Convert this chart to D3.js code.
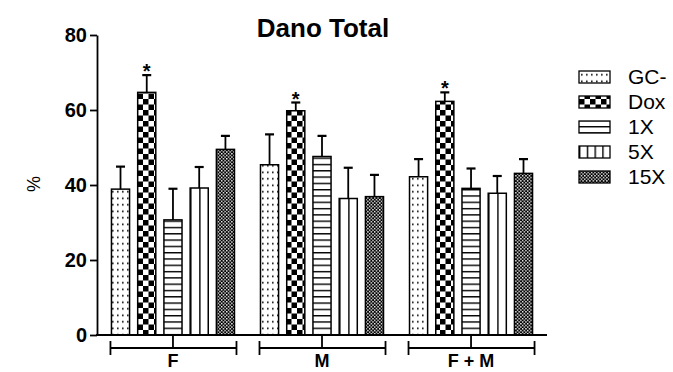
<!DOCTYPE html>
<html>
<head>
<meta charset="utf-8">
<script src="https://cdn.jsdelivr.net/npm/d3@7"></script>
<style>
  body { margin: 0; background: #fff; }
  text { font-family: Arial, "Liberation Sans", sans-serif; }
</style>
</head>
<body>
<svg id="chart" width="673" height="372"></svg>
<script>
// data
const groups = ["F", "M", "F + M"];
const series = ["GC-", "Dox", "1X", "5X", "15X"];
const meanF  = [38.9, 64.7, 30.7, 39.2, 49.5];
const meanM  = [45.4, 59.8, 47.6, 36.4, 36.9];
const meanFM = [42.2, 62.3, 39.1, 37.8, 43.1];
const errF   = [6.0, 4.6, 8.3, 5.6, 3.6];
const errM   = [8.1, 2.2, 5.5, 8.2, 5.8];
const errFM  = [4.7, 2.4, 5.3, 4.6, 3.8];
const starred = ["Dox"];
const yTicks = [0, 20, 40, 60, 80];

const means = [meanF, meanM, meanFM];
const errs = [errF, errM, errFM];
const rows = [];
groups.forEach((g, gi) => series.forEach((s, si) => {
  rows.push({ group: g, series: s, value: means[gi][si], err: errs[gi][si] });
}));

const svg = d3.select("#chart");

// patterns
const defs = svg.append("defs");
const dots = defs.append("pattern").attr("id", "p-dots")
  .attr("patternUnits", "userSpaceOnUse").attr("width", 5).attr("height", 6.5);
dots.append("rect").attr("width", 5).attr("height", 6.5).attr("fill", "#fff");
dots.append("rect").attr("x", 2).attr("y", 2.5).attr("width", 1.6).attr("height", 1.6).attr("fill", "#000");

const check = defs.append("pattern").attr("id", "p-check")
  .attr("patternUnits", "userSpaceOnUse").attr("width", 11).attr("height", 11);
check.append("rect").attr("width", 11).attr("height", 11).attr("fill", "#fff");
check.append("rect").attr("width", 5.5).attr("height", 5.5).attr("fill", "#000");
check.append("rect").attr("x", 5.5).attr("y", 5.5).attr("width", 5.5).attr("height", 5.5).attr("fill", "#000");

const hlines = defs.append("pattern").attr("id", "p-hlines")
  .attr("patternUnits", "userSpaceOnUse").attr("width", 10).attr("height", 6.3);
hlines.append("rect").attr("width", 10).attr("height", 6.3).attr("fill", "#fff");
hlines.append("rect").attr("y", 0).attr("width", 10).attr("height", 1.4).attr("fill", "#000");

function vlinePattern(id, frac) {
  const p = defs.append("pattern").attr("id", id)
    .attr("patternUnits", "objectBoundingBox").attr("width", frac).attr("height", 1);
  p.append("rect").attr("width", 100).attr("height", 400).attr("fill", "#fff");
  p.append("rect").attr("width", 1.4).attr("height", 400).attr("fill", "#000");
}
vlinePattern("p-vlines", 0.5);
vlinePattern("p-vlines-leg", 0.25);

const fine = defs.append("pattern").attr("id", "p-fine")
  .attr("patternUnits", "userSpaceOnUse").attr("width", 3.4).attr("height", 3.4);
fine.append("rect").attr("width", 3.4).attr("height", 3.4).attr("fill", "#000");
fine.append("rect").attr("width", 1.4).attr("height", 1.4).attr("fill", "#fff");
fine.append("rect").attr("x", 1.7).attr("y", 1.7).attr("width", 1.4).attr("height", 1.4).attr("fill", "#fff");

const fills = { "GC-": "url(#p-dots)", "Dox": "url(#p-check)", "1X": "url(#p-hlines)", "5X": "url(#p-vlines)", "15X": "url(#p-fine)" };
const legFills = Object.assign({}, fills, { "5X": "url(#p-vlines-leg)" });

// scales
const y = d3.scaleLinear().domain([0, 80]).range([335, 35]);
const x0 = d3.scaleBand().domain(groups).range([97, 547])
  .paddingInner(0.1745).paddingOuter(0.097);
const x1 = d3.scaleBand().domain(series).range([0, x0.bandwidth()])
  .paddingInner(0.31).paddingOuter(0);

// bars
svg.append("g").selectAll("rect").data(rows).join("rect")
  .attr("x", d => x0(d.group) + x1(d.series))
  .attr("y", d => y(d.value))
  .attr("width", x1.bandwidth())
  .attr("height", d => y(0) - y(d.value))
  .attr("fill", d => fills[d.series])
  .attr("stroke", "#000").attr("stroke-width", 1.5);

// error bars (upper only)
const eb = svg.append("g").attr("stroke", "#000").attr("stroke-width", 1.8);
eb.selectAll("line.v").data(rows).join("line").attr("class", "v")
  .attr("x1", d => x0(d.group) + x1(d.series) + x1.bandwidth() / 2)
  .attr("x2", d => x0(d.group) + x1(d.series) + x1.bandwidth() / 2)
  .attr("y1", d => y(d.value))
  .attr("y2", d => y(d.value + d.err));
eb.selectAll("line.c").data(rows).join("line").attr("class", "c")
  .attr("stroke-width", 2.2)
  .attr("x1", d => x0(d.group) + x1(d.series) + x1.bandwidth() / 2 - 4.5)
  .attr("x2", d => x0(d.group) + x1(d.series) + x1.bandwidth() / 2 + 4.5)
  .attr("y1", d => y(d.value + d.err))
  .attr("y2", d => y(d.value + d.err));

// asterisks
svg.append("g").selectAll("text").data(rows.filter(d => starred.includes(d.series))).join("text")
  .attr("x", d => x0(d.group) + x1(d.series) + x1.bandwidth() / 2)
  .attr("y", d => y(d.value + d.err) + 3)
  .attr("text-anchor", "middle")
  .attr("font-size", 20).attr("font-weight", "bold")
  .text("*");

// y axis
const yAxis = svg.append("g").attr("transform", "translate(97,0)")
  .call(d3.axisLeft(y).tickValues(yTicks).tickSize(7).tickSizeOuter(0).tickPadding(3));
yAxis.select(".domain").attr("stroke-width", 1.8);
yAxis.selectAll(".tick line").attr("stroke-width", 1.8);
yAxis.selectAll(".tick text").attr("font-size", 20).attr("font-weight", "bold")
  .attr("font-family", "Arial, 'Liberation Sans', sans-serif").attr("fill", "#000");

// x baseline
svg.append("line").attr("x1", 96).attr("x2", 547).attr("y1", y(0)).attr("y2", y(0))
  .attr("stroke", "#000").attr("stroke-width", 1.8);

// group brackets
const br = svg.append("g").attr("stroke", "#000").attr("stroke-width", 1.8);
groups.forEach(g => {
  const a = x0(g) - 1, b = x0(g) + x0.bandwidth() + 2, m = x0(g) + x0.bandwidth() / 2;
  br.append("line").attr("x1", a).attr("x2", b).attr("y1", 348).attr("y2", 348);
  br.append("line").attr("x1", a).attr("x2", a).attr("y1", 341).attr("y2", 355);
  br.append("line").attr("x1", b).attr("x2", b).attr("y1", 341).attr("y2", 355);
  br.append("line").attr("x1", m).attr("x2", m).attr("y1", 336).attr("y2", 348);
});
svg.append("g").selectAll("text").data(groups).join("text")
  .attr("x", g => x0(g) + x0.bandwidth() / 2)
  .attr("y", 367)
  .attr("text-anchor", "middle")
  .attr("font-size", 18).attr("font-weight", "bold")
  .text(g => g);

// title and y label
svg.append("text").attr("x", 323).attr("y", 37).attr("text-anchor", "middle")
  .attr("font-size", 26).attr("font-weight", "bold").text("Dano Total");
svg.append("text").attr("transform", "translate(40,184) rotate(-90)")
  .attr("text-anchor", "middle").attr("font-size", 18).text("%");

// legend
const leg = svg.append("g").attr("transform", "translate(579,0)");
series.forEach((s, i) => {
  const cy = 77 + i * 25;
  leg.append("rect").attr("x", 0).attr("y", cy - 6).attr("width", 31).attr("height", 12)
    .attr("fill", legFills[s]).attr("stroke", "#000").attr("stroke-width", 1.3);
  leg.append("text").attr("x", 49).attr("y", cy + 7).attr("font-size", 21).text(s);
});
</script>
</body>
</html>
